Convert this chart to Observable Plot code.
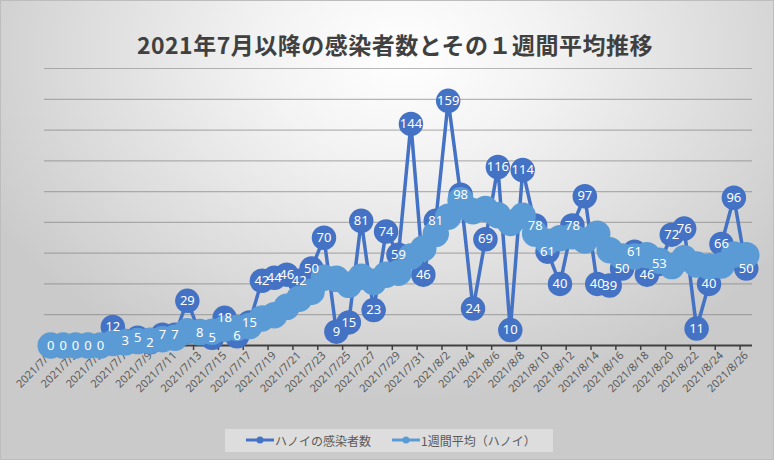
<!DOCTYPE html>
<html><head><meta charset="utf-8">
<script src="https://cdn.jsdelivr.net/npm/d3@7"></script>
<script src="https://cdn.jsdelivr.net/npm/@observablehq/plot@0.6"></script>
<style>
body{margin:0;}
#chart{position:relative;width:774px;height:460px;overflow:hidden;
background:radial-gradient(ellipse 60% 75% at 52% 12%, #ffffff 0%, #f3f3f3 30%, #dcdcdc 70%, #cacaca 100%);}
#frame{position:absolute;left:0;top:0;width:772px;height:458px;border:1px solid #bdbdbd;pointer-events:none;}
#title{position:absolute;left:16px;right:0;top:27px;text-align:center;font:bold 23px "Noto Sans CJK JP";color:#404040;letter-spacing:0.5px;}
#plot{position:absolute;left:0;top:0;}
#legend{position:absolute;left:225px;top:429px;width:328px;height:23px;background:rgba(225,225,225,0.85);
font:12px "Noto Sans CJK JP";color:#595959;display:flex;align-items:center;}
.item{display:flex;align-items:center;position:absolute;top:2px;}
</style></head>
<body>
<div id="chart">
  <div id="plot"></div>
  <div id="title">2021年7月以降の感染者数とその１週間平均推移</div>
  <div id="legend">
    <div class="item" style="left:21px"><svg width="28" height="18"><line x1="0" y1="9" x2="28" y2="9" stroke="#4472C4" stroke-width="3"/><circle cx="14" cy="9" r="3.5" fill="#4472C4"/></svg><span style="margin-left:1px">ハノイの感染者数</span></div>
    <div class="item" style="left:167px"><svg width="28" height="18"><line x1="0" y1="9" x2="28" y2="9" stroke="#5B9BD5" stroke-width="3"/><circle cx="14" cy="9" r="3.5" fill="#5B9BD5"/></svg><span style="margin-left:1px">1週間平均（ハノイ）</span></div>
  </div>
  <div id="frame"></div>
</div>
<script>
const dates = ["2021/7/1","2021/7/2","2021/7/3","2021/7/4","2021/7/5","2021/7/6","2021/7/7","2021/7/8","2021/7/9","2021/7/10",
"2021/7/11","2021/7/12","2021/7/13","2021/7/14","2021/7/15","2021/7/16","2021/7/17","2021/7/18","2021/7/19","2021/7/20",
"2021/7/21","2021/7/22","2021/7/23","2021/7/24","2021/7/25","2021/7/26","2021/7/27","2021/7/28","2021/7/29","2021/7/30",
"2021/7/31","2021/8/1","2021/8/2","2021/8/3","2021/8/4","2021/8/5","2021/8/6","2021/8/7","2021/8/8","2021/8/9",
"2021/8/10","2021/8/11","2021/8/12","2021/8/13","2021/8/14","2021/8/15","2021/8/16","2021/8/17","2021/8/18","2021/8/19",
"2021/8/20","2021/8/21","2021/8/22","2021/8/23","2021/8/24","2021/8/25","2021/8/26"];
const daily = [0,0,0,0,0,12,3,5,2,7,7,29,8,5,18,6,15,42,44,46,42,50,70,9,15,81,23,74,59,144,46,81,159,98,24,69,116,10,114,78,61,40,78,97,40,39,50,61,46,53,72,76,11,40,66,96,50];
const weekly = [0,0,0,0,0,1.7,2.1,2.9,3.1,4.1,5.1,9.3,8.7,9.0,10.9,11.4,12.6,17.6,19.7,25.1,30.4,35.0,44.1,43.3,39.4,44.7,41.4,46.0,47.3,57.9,63.1,72.6,83.7,94.4,87.3,88.7,84.7,79.6,84.3,72.7,67.4,69.7,71.0,68.3,72.6,61.9,57.9,57.9,58.7,55.1,51.6,56.7,52.7,51.3,52.0,59.1,58.7];
const gridValues = [20,40,60,80,100,120,140,160,180];

const data = dates.map((d, i) => ({i, date: d, daily: daily[i], weekly: weekly[i]}));
const labelIdx = dates.map((d, i) => i).filter(i => i % 2 === 0);
const tickIdx = dates.map((d, i) => i - 0.5).filter((v, k) => k % 2 === 0);

const chart = Plot.plot({
  width: 774, height: 460,
  marginLeft: 44, marginRight: 22, marginTop: 68, marginBottom: 115,
  style: {background: "transparent", overflow: "visible", fontFamily: "Noto Sans"},
  x: {type: "linear", domain: [-0.5, 56.5], axis: null, label: null},
  y: {domain: [0, 180], axis: null, label: null},
  marks: [
    Plot.ruleY(gridValues, {stroke: "#7f7f7f", strokeOpacity: 0.55, strokeWidth: 1.2}),
    Plot.ruleY([0], {stroke: "#404040", strokeWidth: 2}),
    Plot.axisX(tickIdx, {tickSize: 5, tickFormat: () => "", label: null, stroke: "#404040", strokeWidth: 1.5}),
    Plot.axisX(labelIdx, {tickSize: 0, tickPadding: 8, label: null, tickFormat: i => dates[i], tickRotate: -45, textAnchor: "end", fontSize: 11, fill: "#595959"}),
    Plot.line(data, {x: "i", y: "daily", stroke: "#4472C4", strokeWidth: 3.5}),
    Plot.dot(data, {x: "i", y: "daily", r: 11.5, fill: "#4472C4", stroke: "#4472C4"}),
    Plot.line(data, {x: "i", y: "weekly", stroke: "#5B9BD5", strokeWidth: 5}),
    Plot.dot(data, {x: "i", y: "weekly", r: 12.5, fill: "#5B9BD5", stroke: "#5B9BD5"}),
    Plot.text(data, {x: "i", y: "daily", text: d => String(d.daily), fill: "white", fontSize: 13})
  ]
});
document.getElementById("plot").appendChild(chart);
</script>
</body></html>
